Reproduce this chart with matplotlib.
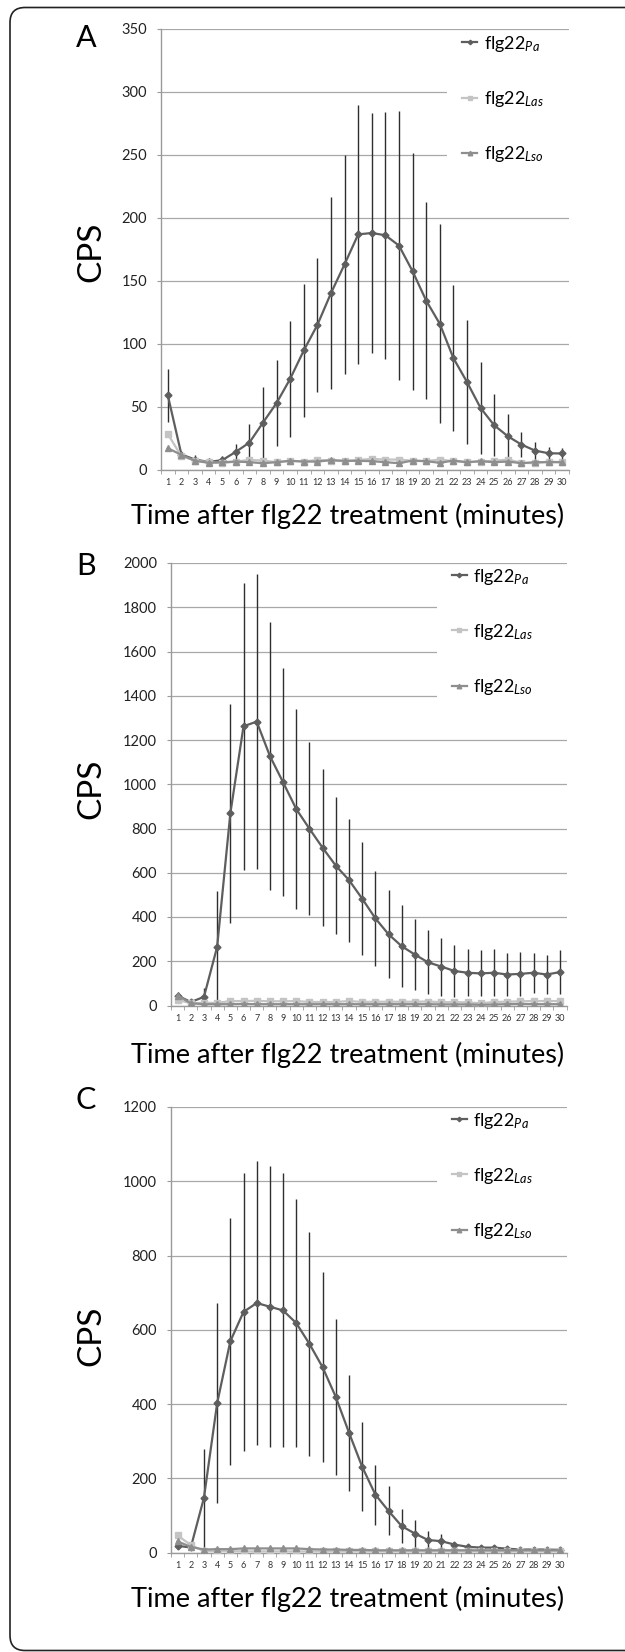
import numpy as np
import matplotlib
matplotlib.use('Agg')
import matplotlib.pyplot as plt
from matplotlib.patches import Rectangle, FancyBboxPatch

plt.rcParams['font.family'] = ['Lato', 'DejaVu Sans']
plt.rcParams['mathtext.fontset'] = 'custom'
plt.rcParams['mathtext.rm'] = 'Lato'
plt.rcParams['mathtext.it'] = 'Lato:italic'

minutes = np.arange(1, 31)
labels = [r'flg22$_{\mathit{Pa}}$', r'flg22$_{\mathit{Las}}$', r'flg22$_{\mathit{Lso}}$']

# panel A
a_pa = [58.9, 11.9, 7.9, 6.0, 7.4, 14.0, 21.4, 37.2, 52.8, 72.0, 94.5, 114.8, 140.0, 162.9, 186.6,
        187.7, 185.9, 177.7, 157.3, 134.0, 115.6, 88.4, 69.4, 48.8, 35.1, 26.4, 19.8, 15.0, 12.9, 12.7]
a_pa_err = [21, 3, 3.5, 3, 3.5, 6, 15, 28, 34, 46, 53, 53, 76, 87, 103,
            95, 98, 107, 94, 78, 79, 58, 49, 36.5, 24.5, 18, 10, 7, 5, 4.5]
a_las = [28.2, 10.5, 7.1, 5.8, 5.0, 6.3, 7.6, 7.1, 5.8, 6.9, 6.3, 7.6, 7.1, 6.6, 7.6,
         8.4, 7.9, 7.9, 6.9, 6.6, 7.9, 6.6, 5.8, 6.3, 6.9, 7.9, 5.3, 5.0, 6.3, 5.8]
a_lso = [16.9, 11.6, 6.9, 5.3, 5.8, 6.3, 5.8, 5.0, 5.8, 6.9, 6.3, 6.3, 7.4, 6.9, 6.9,
         6.6, 5.8, 5.0, 7.1, 6.6, 5.3, 7.1, 5.8, 6.6, 5.8, 6.3, 5.0, 5.8, 5.8, 5.8]

# panel B
b_pa = [45, 15.6, 39, 265, 868, 1262, 1283, 1128, 1009, 888, 799, 713, 632, 567, 483,
        394, 322, 268, 230, 195, 176, 156, 148, 145, 148, 140, 143, 148, 140, 151]
b_pa_err = [15, 8, 42, 252, 494, 648, 668, 604, 516, 450, 392, 355, 310, 278, 257,
            216, 198, 185, 162, 144, 131, 119, 106, 104, 106, 97, 98, 90, 89, 98]
b_las = [25, 10, 12, 12, 20, 20, 21, 19, 19, 20, 16, 16, 16, 20, 16,
         17, 17, 17, 17, 18, 15, 15, 14, 10, 16, 17, 19, 20, 20, 20]
b_lso = [45, 10, 6, 6, 6, 7, 6, 6, 6, 6, 6, 6, 6, 6, 6,
         6, 6, 6, 6, 6, 5, 5, 5, 3, 5, 6, 7, 6, 6, 6]

# panel C
c_pa = [18, 13.5, 147.6, 402, 569, 648, 672, 662, 652, 618, 562, 499, 419, 323, 231,
        156, 112, 71, 51, 33.6, 30.5, 21.4, 15.3, 13.2, 13.2, 10.2, 8, 8, 8, 7]
c_pa_err = [6, 4, 132, 270, 333, 374, 382, 378, 369, 334, 302, 256, 210, 156, 120,
            81, 66, 46, 35.5, 25, 20, 8, 5, 4, 4, 4, 4, 4, 4, 4]
c_las = [46, 20, 4, 4, 4, 3, 3, 3, 3, 3, 3, 3, 3, 3, 3,
         3, 3, 3, 3, 3, 3, 3, 3, 3, 3, 3, 3, 3, 3, 3]
c_lso = [30, 15, 8, 9, 9, 11, 11, 11, 11, 11, 9, 8, 8, 7, 7,
         6, 6, 6, 6, 6, 6, 6, 6, 6, 6, 6, 6, 6, 6, 6]

W, H = 625, 1652

def px_rect(l, t, r, b):
    return [l / W, 1 - b / H, (r - l) / W, (b - t) / H]

def draw_panel(ax, pa, pa_err, las, lso, ymax, ystep, hand_x, leg_top, box):
    ax.set_xlim(0.5, 30.5)
    ax.set_ylim(0, ymax)
    ax.set_yticks(np.arange(0, ymax + 1, ystep))
    ax.set_xticks(minutes)
    ax.set_xticks(np.arange(0.5, 31, 1), minor=True)
    ax.set_axisbelow(True)
    ax.yaxis.grid(True, color='#a8a8a8', lw=0.9)
    for s in ['top', 'right']:
        ax.spines[s].set_visible(False)
    for s in ['left', 'bottom']:
        ax.spines[s].set_color('#9a9a9a')
        ax.spines[s].set_linewidth(1.0)
    ax.tick_params(axis='x', which='major', length=0, labelsize=6.5, pad=6, colors='#333333')
    ax.tick_params(axis='x', which='minor', length=3, color='#9a9a9a')
    ax.tick_params(axis='y', length=3, color='#9a9a9a', labelsize=10.5, pad=7, labelcolor='#222222')

    # white box behind legend hides the gridlines there
    ax.add_patch(Rectangle((box[0], box[1]), 1 - box[0] + 0.05, box[2] - box[1],
                           transform=ax.transAxes, facecolor='white', edgecolor='none',
                           zorder=1, clip_on=False))

    ax.errorbar(minutes, pa, yerr=pa_err, fmt='none', ecolor='#2e2e2e', elinewidth=1.0,
                capsize=0, zorder=2)
    ax.plot(minutes, pa, '-D', color='#5e5e5e', lw=1.6, ms=3.5, label=labels[0], zorder=3)
    ax.plot(minutes, las, '-s', color='#c4c4c4', lw=1.6, ms=4.5, label=labels[1], zorder=4)
    ax.plot(minutes, lso, '-^', color='#8e8e8e', lw=1.6, ms=5, label=labels[2], zorder=5)

    ax.legend(loc='upper left', bbox_to_anchor=(hand_x, leg_top), frameon=False,
              handlelength=0.85, handletextpad=0.35, labelspacing=1.95, borderpad=0,
              borderaxespad=0, fontsize=13, markerscale=0.65)


fig = plt.figure(figsize=(6.25, 16.52), dpi=100)

axA = fig.add_axes(px_rect(161, 28.5, 569, 469.5))
draw_panel(axA, a_pa, a_pa_err, a_las, a_lso, 350, 50, 0.738, 0.988, (0.700, 0.62, 0.994))

axB = fig.add_axes(px_rect(171, 563, 566.5, 1005.5))
draw_panel(axB, b_pa, b_pa_err, b_las, b_lso, 2000, 200, 0.710, 0.992, (0.672, 0.63, 0.995))

axC = fig.add_axes(px_rect(171, 1107, 566.5, 1552.5))
draw_panel(axC, c_pa, c_pa_err, c_las, c_lso, 1200, 200, 0.710, 0.992, (0.672, 0.70, 0.995))

# panel letters, y labels, x labels
for letter, ly, cy, xy in [('A', 38, 252, 516), ('B', 566, 789, 1055), ('C', 1100, 1336, 1599)]:
    fig.text(86 / W, 1 - ly / H, letter, fontsize=22, ha='center', va='center')
    fig.text(91 / W, 1 - cy / H, 'CPS', fontsize=24, rotation=90, ha='center', va='center')
    fig.text(348 / W, 1 - xy / H, 'Time after flg22 treatment (minutes)', fontsize=19.5,
             ha='center', va='center')

# rounded outer frame
frame = FancyBboxPatch((0.10, 0.015), 6.4, 16.43, boxstyle='round,pad=0,rounding_size=0.15',
                       transform=fig.dpi_scale_trans, facecolor='none', edgecolor='#222222',
                       lw=1.2)
fig.patches.append(frame)

fig.savefig('out.png', dpi=100)
